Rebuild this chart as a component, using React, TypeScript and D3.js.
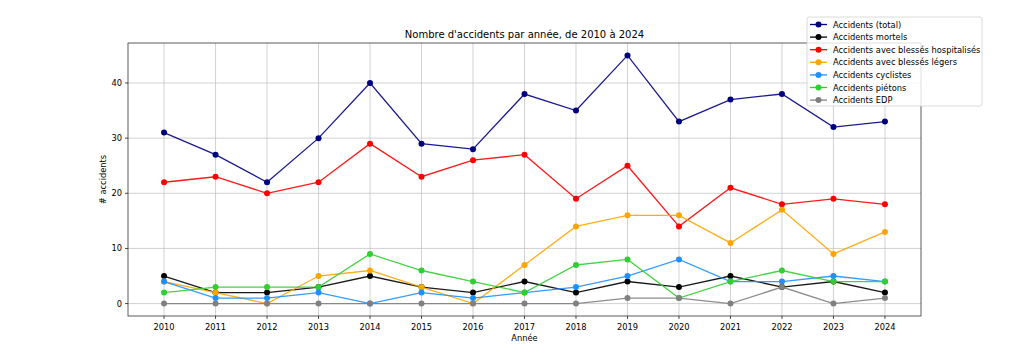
import React from "react";
import * as d3 from "d3";

const years = [2010, 2011, 2012, 2013, 2014, 2015, 2016, 2017, 2018, 2019, 2020, 2021, 2022, 2023, 2024];
const total = [31, 27, 22, 30, 40, 29, 28, 38, 35, 45, 33, 37, 38, 32, 33];
const mortels = [5, 2, 2, 3, 5, 3, 2, 4, 2, 4, 3, 5, 3, 4, 2];
const hospitalises = [22, 23, 20, 22, 29, 23, 26, 27, 19, 25, 14, 21, 18, 19, 18];
const legers = [4, 2, 0, 5, 6, 3, 0, 7, 14, 16, 16, 11, 17, 9, 13];
const cyclistes = [4, 1, 1, 2, 0, 2, 1, 2, 3, 5, 8, 4, 4, 5, 4];
const pietons = [2, 3, 3, 3, 9, 6, 4, 2, 7, 8, 1, 4, 6, 4, 4];
const edp = [0, 0, 0, 0, 0, 0, 0, 0, 0, 1, 1, 0, 3, 0, 1];
const yTicks = [0, 10, 20, 30, 40];

const seriesNames = [
  "Accidents (total)",
  "Accidents mortels",
  "Accidents avec blessés hospitalisés",
  "Accidents avec blessés légers",
  "Accidents cyclistes",
  "Accidents piétons",
  "Accidents EDP",
];
const seriesValues = [total, mortels, hospitalises, legers, cyclistes, pietons, edp];
const seriesColors = ["#000080", "#000000", "#ff0000", "#ffa500", "#1e90ff", "#32cd32", "#808080"];

const W = 1024;
const H = 356;
const m = { left: 128, right: 921, top: 43, bottom: 316 };
const FONT = "DejaVu Sans, sans-serif";
const FS = 8.3;

export default function App() {
  const x = d3.scaleLinear().domain([2009.3, 2024.7]).range([m.left, m.right]);
  const y = d3.scaleLinear().domain([-2.25, 47.25]).range([m.bottom, m.top]);
  const line = d3
    .line<number>()
    .x((_, i) => x(years[i]))
    .y((d) => y(d));

  const legX = 807;
  const legY = 17;
  const rowH = 12.6;

  return (
    <svg width={W} height={H} style={{ position: "absolute", left: 0, top: 0, background: "#fff" }} fontFamily={FONT}>
      <rect x={0} y={0} width={W} height={H} fill="#fff" />
      {/* grid */}
      <g stroke="#b0b0b0" strokeWidth={0.7} opacity={0.8}>
        {years.map((yr) => (
          <line key={"gx" + yr} x1={x(yr)} x2={x(yr)} y1={m.top} y2={m.bottom} />
        ))}
        {yTicks.map((t) => (
          <line key={"gy" + t} x1={m.left} x2={m.right} y1={y(t)} y2={y(t)} />
        ))}
      </g>
      {/* series */}
      {seriesValues.map((vals, si) => (
        <g key={"s" + si}>
          <path d={line(vals) || ""} fill="none" stroke={seriesColors[si]} strokeWidth={1.3} opacity={0.9} />
          {vals.map((v, i) => (
            <circle key={i} cx={x(years[i])} cy={y(v)} r={3} fill={seriesColors[si]} />
          ))}
        </g>
      ))}
      {/* spines */}
      <rect x={m.left} y={m.top} width={m.right - m.left} height={m.bottom - m.top} fill="none" stroke="#000" strokeWidth={0.8} opacity={0.8} />
      {/* x ticks */}
      {years.map((yr) => (
        <g key={"xt" + yr}>
          <line x1={x(yr)} x2={x(yr)} y1={m.bottom} y2={m.bottom + 3} stroke="#000" strokeWidth={0.7} />
          <text x={x(yr)} y={m.bottom + 14} textAnchor="middle" fontSize={FS} fill="#000">
            {yr}
          </text>
        </g>
      ))}
      {/* y ticks */}
      {yTicks.map((t) => (
        <g key={"yt" + t}>
          <line x1={m.left - 3} x2={m.left} y1={y(t)} y2={y(t)} stroke="#000" strokeWidth={0.7} />
          <text x={m.left - 6} y={y(t) + 3} textAnchor="end" fontSize={FS} fill="#000">
            {t}
          </text>
        </g>
      ))}
      <text x={(m.left + m.right) / 2} y={341} textAnchor="middle" fontSize={FS} fill="#000">
        Année
      </text>
      <text transform={`translate(106, ${(m.top + m.bottom) / 2}) rotate(-90)`} textAnchor="middle" fontSize={FS} fill="#000">
        # accidents
      </text>
      <text x={(m.left + m.right) / 2} y={38} textAnchor="middle" fontSize={10} fill="#000">
        Nombre d'accidents par année, de 2010 à 2024
      </text>
      {/* legend */}
      <rect x={legX} y={legY} width={175} height={89} rx={2} fill="#fff" fillOpacity={0.8} stroke="#d0d0d0" strokeWidth={0.8} />
      {seriesNames.map((name, i) => {
        const cy = legY + 7.5 + i * rowH;
        return (
          <g key={"lg" + i}>
            <line x1={legX + 3} x2={legX + 20} y1={cy} y2={cy} stroke={seriesColors[i]} strokeWidth={1.3} />
            <circle cx={legX + 11.5} cy={cy} r={3} fill={seriesColors[i]} />
            <text x={legX + 26} y={cy + 3} fontSize={FS} fill="#000">
              {name}
            </text>
          </g>
        );
      })}
    </svg>
  );
}
